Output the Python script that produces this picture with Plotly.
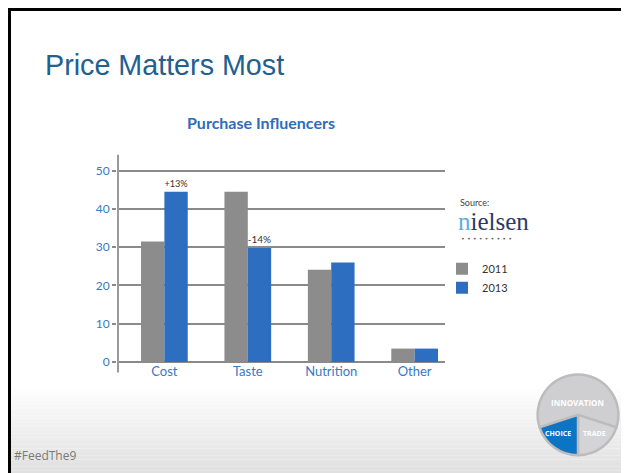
import plotly.graph_objects as go

W, H = 629, 473
OFF = 8  # the page places the figure 8px from the top-left corner

categories = ["Cost", "Taste", "Nutrition", "Other"]
values_2011 = [31.5, 44.5, 24.1, 3.5]
values_2013 = [44.5, 29.8, 26.0, 3.5]
labels_2013 = ["+13%", "-14%", "", ""]
y_ticks = [0, 10, 20, 30, 40, 50]
logo_labels = ["INNOVATION", "TRADE", "CHOICE"]
logo_values = [216, 72, 72]

GRAY = "#8c8c8c"
BLUE = "#2e6ec0"
TICKBLUE = "#3a78c3"


def px_x(p):
    return (p - OFF) / W


def px_y(p):
    return 1 - (p - OFF) / H


fig = go.Figure()
fig.add_trace(go.Bar(x=categories, y=values_2011, name="2011",
                     marker=dict(color=GRAY, line=dict(width=0))))
fig.add_trace(go.Bar(x=categories, y=values_2013, name="2013",
                     marker=dict(color=BLUE, line=dict(width=0)),
                     text=labels_2013, textposition="outside",
                     textfont=dict(size=10, color="#333333", family="Lato"),
                     cliponaxis=False))

fig.add_trace(go.Pie(labels=logo_labels, values=logo_values, sort=False,
                     direction="clockwise", rotation=252,
                     marker=dict(colors=["#cfcfd1", "#d4d4d6", "#0b74c4"],
                                 line=dict(color="#bcbcbc", width=2.5)),
                     textinfo="none", hoverinfo="skip", showlegend=False,
                     domain=dict(x=[px_x(537), px_x(619)], y=[px_y(462), px_y(380)])))

shapes = []
# bottom gradient band
n = 24
y_start, y_end = 392, 481
for i in range(n):
    t = (i + 0.5) / n
    c = int(round(255 - 32 * t))
    y0 = max(0.0, px_y(y_start + (y_end - y_start) * (i + 1) / n))
    y1 = px_y(y_start + (y_end - y_start) * i / n)
    shapes.append(dict(type="rect", xref="paper", yref="paper",
                       x0=0, x1=1, y0=y0, y1=y1,
                       fillcolor=f"rgb({c},{c},{c})", line=dict(width=0), layer="below"))
# black frame top and left (as close to the page corner as the figure can reach)
shapes.append(dict(type="rect", xref="paper", yref="paper", x0=0, x1=1,
                   y0=px_y(11), y1=1, fillcolor="black", line=dict(width=0)))
shapes.append(dict(type="rect", xref="paper", yref="paper", x0=0, x1=px_x(11),
                   y0=0, y1=1, fillcolor="black", line=dict(width=0)))
# y axis line extending beyond plot
shapes.append(dict(type="line", xref="paper", yref="paper", x0=px_x(118), x1=px_x(118),
                   y0=px_y(157), y1=px_y(378), line=dict(color="#9a9a9a", width=2)))

annotations = [
    dict(text="Price Matters Most", x=px_x(43), y=px_y(66), xref="paper", yref="paper",
         xanchor="left", yanchor="middle", showarrow=False,
         font=dict(family="Liberation Sans", size=28.7, color="#22608f")),
    dict(text="<b>Purchase Influencers</b>", x=px_x(261), y=px_y(124), xref="paper", yref="paper",
         xanchor="center", yanchor="middle", showarrow=False,
         font=dict(family="Lato", size=16, color="#2f6cba")),
    dict(text="Source:", x=px_x(458), y=px_y(205), xref="paper", yref="paper",
         xanchor="left", yanchor="middle", showarrow=False,
         font=dict(family="Lato", size=9, color="#444444")),
    dict(text="<span style='color:#5aaee0'>n</span><span style='color:#2b3a67'>ielsen</span>",
         x=px_x(456), y=px_y(225), xref="paper", yref="paper",
         xanchor="left", yanchor="middle", showarrow=False,
         font=dict(family="Liberation Serif", size=25, color="#2b3a67")),
    dict(text="• • • • • • • • •", x=px_x(459), y=px_y(242), xref="paper", yref="paper",
         xanchor="left", yanchor="middle", showarrow=False,
         font=dict(family="DejaVu Sans", size=6.5, color="#666666")),
    dict(text="#FeedThe9", x=px_x(12), y=px_y(462), xref="paper", yref="paper",
         xanchor="left", yanchor="middle", showarrow=False,
         font=dict(family="Open Sans", size=12, color="#7a7a7a")),
    dict(text="<b>INNOVATION</b>", x=px_x(577), y=px_y(408), xref="paper", yref="paper",
         xanchor="center", yanchor="middle", showarrow=False,
         font=dict(family="Open Sans", size=8, color="white")),
    dict(text="<b>CHOICE</b>", x=px_x(558), y=px_y(440), xref="paper", yref="paper",
         xanchor="center", yanchor="middle", showarrow=False,
         font=dict(family="Open Sans", size=7, color="white")),
    dict(text="<b>TRADE</b>", x=px_x(594), y=px_y(440), xref="paper", yref="paper",
         xanchor="center", yanchor="middle", showarrow=False,
         font=dict(family="Open Sans", size=7, color="white")),
]

fig.update_layout(
    width=W, height=H,
    margin=dict(l=0, r=0, t=0, b=0),
    paper_bgcolor="white", plot_bgcolor="rgba(0,0,0,0)",
    barmode="group", bargap=0.44, bargroupgap=0,
    showlegend=True,
    legend=dict(x=px_x(442), y=px_y(258), xanchor="left", yanchor="top",
                font=dict(family="Lato", size=11, color="#333333"),
                bgcolor="rgba(0,0,0,0)", tracegroupgap=0, itemwidth=30),
    xaxis=dict(domain=[px_x(117), px_x(445)], range=[-0.568, 3.364],
               showgrid=False, showline=False, zeroline=False, ticks="",
               tickfont=dict(family="Lato", size=13, color=TICKBLUE)),
    yaxis=dict(domain=[px_y(367.3), px_y(158)], range=[0, 53.9],
               tickvals=y_ticks, showgrid=True, gridcolor="#8a8a8a", gridwidth=1.5,
               zeroline=True, zerolinecolor="#8a8a8a", zerolinewidth=1.5,
               showline=False, ticks="outside", ticklen=4, tickcolor="#8a8a8a",
               tickwidth=1.5,
               tickfont=dict(family="Lato", size=12, color=TICKBLUE)),
    shapes=shapes, annotations=annotations,
)

fig.write_html("out.html", config={"displayModeBar": False})
